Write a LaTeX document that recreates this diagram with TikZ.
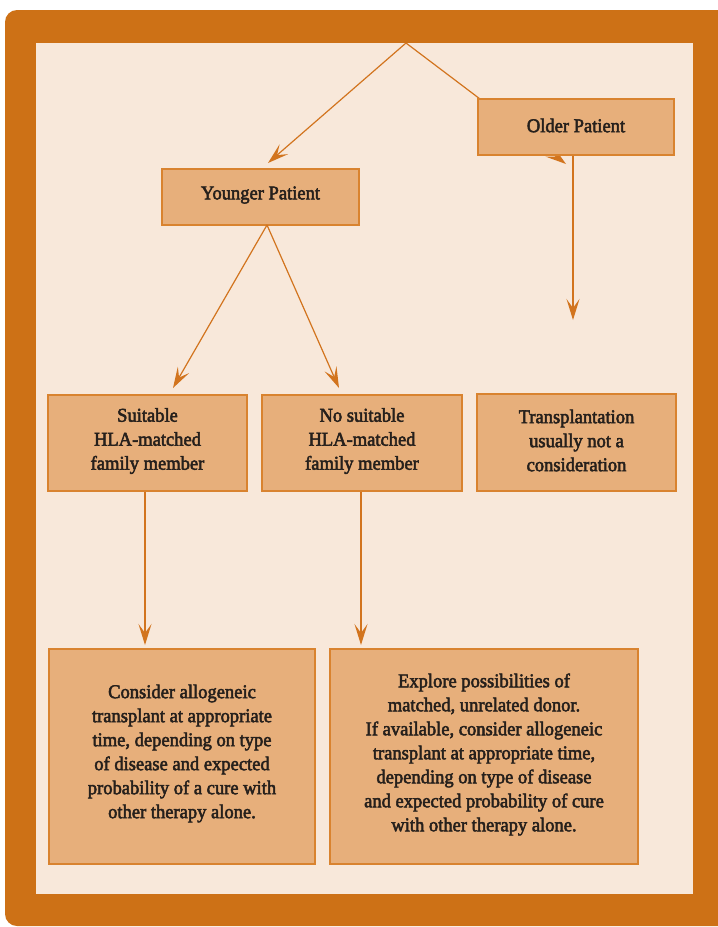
\documentclass[tikz,border=0pt]{standalone}
\usepackage{fontspec}
\setmainfont{Liberation Serif}[FakeBold=2.6, FakeStretch=0.95]
\usetikzlibrary{arrows.meta}
\definecolor{frameor}{HTML}{CD7116}
\definecolor{panelbg}{HTML}{F8E8DA}
\definecolor{boxfill}{HTML}{E7AF7B}
\definecolor{boxline}{HTML}{D9832F}
\definecolor{arrowcol}{HTML}{D2741E}
\definecolor{txt}{HTML}{26201C}
\newcommand{\liftby}[2]{\raisebox{#1}[\height][\depth]{#2}}
\begin{document}
\begin{tikzpicture}[x=1pt,y=-1pt,
  box/.style={draw=boxline, line width=1.3pt, fill=boxfill, inner sep=0pt,
    align=center, text=txt, font=\fontsize{19.5}{24}\selectfont},
  conn/.style={draw=arrowcol, line width=1.2pt,
    -{Stealth[length=21pt, width=13pt, inset=9pt]}}]
\useasboundingbox (0,0) rectangle (718,927);
\begin{scope}
\clip (0,0) rectangle (718,927);
\fill[frameor, rounded corners=12pt] (5,10) rectangle (730,926);
\end{scope}
\fill[panelbg] (36,43) rectangle (693,894);
% hidden arrow behind the Older Patient box
\coordinate (apex) at (406,43);
\coordinate (oldtip) at (566,164);
\draw[conn] (apex) -- (oldtip);
% nodes
\node[box, minimum width=196pt, minimum height=56pt] (older) at (576,127) {\liftby{1.5pt}{Older Patient}};
\node[box, minimum width=197pt, minimum height=56pt] (younger) at (260.5,197) {\liftby{2pt}{Younger Patient}};
\node[box, minimum width=199pt, minimum height=96pt] (suit) at (147.5,443) {\liftby{2pt}{\parbox{190pt}{\centering Suitable\\HLA-matched\\family member}}};
\node[box, minimum width=200pt, minimum height=96pt] (nosuit) at (362,443) {\liftby{2pt}{\parbox{190pt}{\centering No suitable\\HLA-matched\\family member}}};
\node[box, minimum width=199pt, minimum height=97pt] (trans) at (576.5,442.5) {\liftby{2pt}{\parbox{190pt}{\centering Transplantation\\usually not a\\consideration}}};
\node[box, minimum width=266pt, minimum height=215pt] (consider) at (182,756.5) {\liftby{3pt}{\parbox{260pt}{\centering Consider allogeneic\\transplant at appropriate\\time, depending on type\\of disease and expected\\probability of a cure with\\other therapy alone.}}};
\node[box, minimum width=308pt, minimum height=215pt] (explore) at (484,756.5) {\liftby{2pt}{\parbox{300pt}{\centering Explore possibilities of\\matched, unrelated donor.\\If available, consider allogeneic\\transplant at appropriate time,\\depending on type of disease\\and expected probability of cure\\with other therapy alone.}}};
% arrow tips
\coordinate (ytip) at (268,163);
\coordinate (otip) at (573,320);
\coordinate (ybase) at (267,225);
\coordinate (stip) at (173,388);
\coordinate (ntip) at (339,388);
\coordinate (ctip) at (145,645);
\coordinate (etip) at (361,645);
\draw[conn] (apex) -- (ytip);
\draw[conn] (older.south -| otip) -- (otip);
\draw[conn] (ybase) -- (stip);
\draw[conn] (ybase) -- (ntip);
\draw[conn] (suit.south -| ctip) -- (ctip);
\draw[conn] (nosuit.south -| etip) -- (etip);
\end{tikzpicture}
\end{document}
